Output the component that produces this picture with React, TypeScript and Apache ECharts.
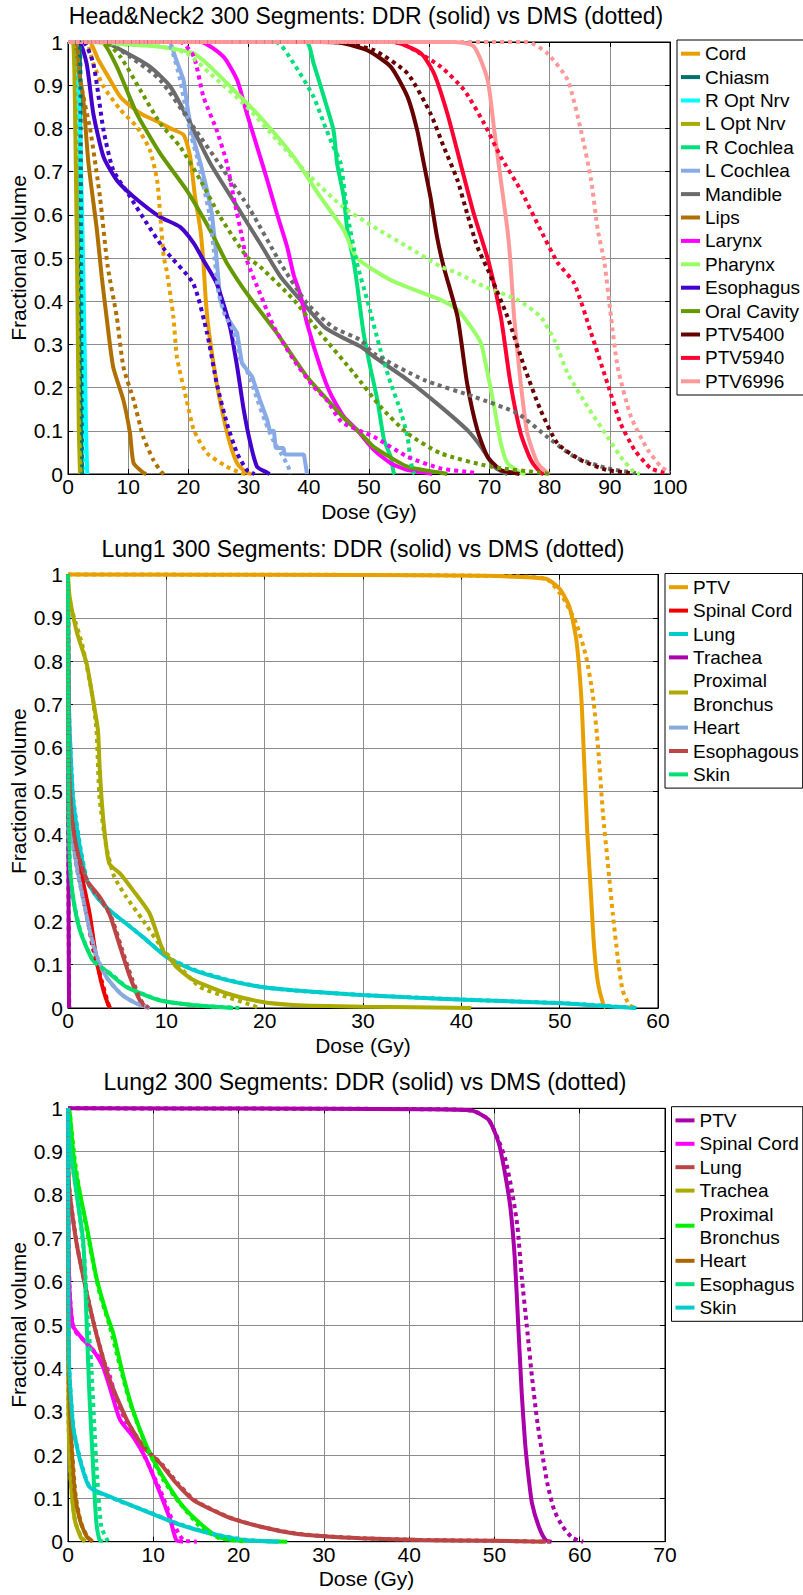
import React, { useEffect, useRef } from "react";
import * as echarts from "echarts";

type Pt = [number, number];

// ===================== Head&Neck2 =====================
const hnTitle = "Head&Neck2 300 Segments: DDR (solid) vs DMS (dotted)";
const hnXTicks = [0, 10, 20, 30, 40, 50, 60, 70, 80, 90, 100];
const hnNames = ["Cord", "Chiasm", "R Opt Nrv", "L Opt Nrv", "R Cochlea", "L Cochlea", "Mandible", "Lips", "Larynx", "Pharynx", "Esophagus", "Oral Cavity", "PTV5400", "PTV5940", "PTV6996"];
const hnColors = ["#E8A000", "#007070", "#00FFFF", "#AAAA00", "#00E07A", "#88AAE6", "#6B6B6B", "#B07000", "#FF00FF", "#99FF66", "#4400CC", "#669900", "#660000", "#FF0033", "#FF9999"];

const hnCordDDR: Pt[] = [[0,1],[3.5,1],[5,0.96],[7,0.912],[8.7,0.873],[10.5,0.85],[12.5,0.831],[15,0.815],[17,0.8],[19.2,0.785],[20.3,0.734],[21.1,0.642],[22,0.565],[22.5,0.488],[22.9,0.4],[23.4,0.33],[24.7,0.21],[25.8,0.133],[26.9,0.071],[28.1,0.025],[29.7,0.003],[30.5,0]];
const hnCordDMS: Pt[] = [[0,1],[3,1],[4.2,0.95],[5.9,0.897],[8.7,0.843],[11.4,0.804],[13.6,0.75],[14.8,0.68],[15.3,0.603],[15.9,0.503],[16.4,0.47],[17.5,0.364],[18.1,0.27],[19.7,0.171],[20.9,0.102],[23.1,0.048],[26.4,0.017],[28.6,0.003],[29.5,0]];
const hnChiasmDDR: Pt[] = [[0,1],[1.8,1],[2.0,0.9],[2.1,0.5],[2.2,0.1],[2.3,0]];
const hnChiasmDMS: Pt[] = [[0,1],[1.9,1],[2.1,0.8],[2.2,0.4],[2.35,0]];
const hnROptDDR: Pt[] = [[0,1],[1.3,1],[1.8,0.9],[2.5,0.5],[3.0,0.1],[3.2,0]];
const hnROptDMS: Pt[] = [[0,1],[1.3,1],[1.7,0.9],[2.3,0.5],[2.8,0.1],[3.0,0]];
const hnLOptDDR: Pt[] = [[0,1],[0.8,1],[1.1,0.9],[1.5,0.5],[1.8,0.1],[2.0,0]];
const hnLOptDMS: Pt[] = [[0,1],[0.9,1],[1.2,0.9],[1.6,0.5],[1.9,0.1],[2.1,0]];
const hnRCochDDR: Pt[] = [[0,1],[39.5,1],[40.8,0.95],[42.5,0.873],[44.1,0.796],[44.7,0.719],[45.8,0.642],[46.4,0.565],[47.5,0.488],[48,0.441],[49.1,0.326],[50.2,0.248],[51.4,0.171],[52.5,0.079],[53.6,0.04],[54.1,0.003],[54.3,0]];
const hnRCochDMS: Pt[] = [[0,1],[34.5,1],[37.5,0.95],[40.8,0.873],[42.5,0.812],[44,0.76],[45.3,0.719],[46.4,0.603],[48,0.488],[49.7,0.403],[51.9,0.287],[53.6,0.21],[55.2,0.148],[56.4,0.086],[56.9,0.032],[57.4,0.003],[57.6,0]];
const hnLCochDDR: Pt[] = [[0,1],[17,1],[17.8,0.966],[19.2,0.912],[20,0.835],[20.9,0.773],[22,0.72],[23.1,0.657],[23.9,0.603],[24.5,0.526],[25.3,0.403],[26.4,0.364],[28.1,0.326],[28.9,0.256],[30.6,0.225],[31.9,0.171],[33.1,0.125],[33.5,0.1],[34.2,0.1],[34.5,0.06],[35.8,0.06],[36,0.045],[39.2,0.045],[39.7,0]];
const hnLCochDMS: Pt[] = [[0,1],[16.5,1],[17.5,0.97],[18.5,0.92],[19.5,0.85],[20.5,0.78],[21.5,0.73],[22.6,0.66],[23.5,0.6],[24.2,0.52],[25,0.42],[26,0.37],[27.5,0.33],[28.5,0.27],[30,0.23],[31.5,0.17],[32.8,0.12],[34,0.08],[35.5,0.045],[36.5,0.02],[37,0]];
const hnMandDDR: Pt[] = [[0,1],[5.8,1],[9.8,0.974],[13.6,0.943],[17,0.897],[20.3,0.812],[23.6,0.72],[28.1,0.619],[31.9,0.534],[35.3,0.457],[38.6,0.403],[42.5,0.341],[45.3,0.318],[48.6,0.295],[50.8,0.272],[56.4,0.218],[61.9,0.156],[66.3,0.102],[68.6,0.063],[70.8,0.017],[72.4,0.003],[73,0]];
const hnMandDMS: Pt[] = [[0,1],[6,1],[10.3,0.966],[15.3,0.912],[20.8,0.804],[25.8,0.704],[30.3,0.611],[35.3,0.488],[39.7,0.395],[44,0.34],[48.6,0.31],[50.8,0.279],[59.1,0.218],[67.4,0.179],[74.7,0.14],[79.6,0.086],[84.1,0.04],[89.6,0.013],[94,0.003],[95,0]];
const hnLipsDDR: Pt[] = [[0,1],[1.2,1],[1.6,0.95],[2.5,0.873],[3.4,0.719],[4.8,0.565],[5.6,0.457],[6.4,0.364],[7.5,0.248],[9.2,0.171],[10.3,0.094],[10.9,0.025],[12.5,0.003],[13,0]];
const hnLipsDMS: Pt[] = [[0,1],[1.3,1],[2,0.912],[3.7,0.796],[5.3,0.642],[6.6,0.48],[8.1,0.364],[9.2,0.248],[10.9,0.171],[12.5,0.086],[14.2,0.032],[15.6,0.003],[16,0]];
const hnLarDDR: Pt[] = [[0,1],[22,1],[25.8,0.966],[28.1,0.912],[29.7,0.835],[31.4,0.758],[33.1,0.68],[34.7,0.603],[36.4,0.526],[37.5,0.46],[38.6,0.415],[39.7,0.349],[41.9,0.248],[43.6,0.186],[45.8,0.133],[48,0.102],[50.8,0.056],[53.6,0.025],[56.4,0.009],[59.7,0.003],[60.5,0]];
const hnLarDMS: Pt[] = [[0,1],[18.6,1],[20.9,0.966],[22.5,0.873],[24.7,0.796],[26.4,0.719],[27.5,0.642],[28.9,0.549],[29.7,0.495],[31.9,0.418],[34.2,0.341],[37.5,0.264],[40.8,0.202],[43,0.171],[45.5,0.12],[50.8,0.086],[56.4,0.04],[61.9,0.013],[67.4,0.003],[68,0]];
const hnPharDDR: Pt[] = [[0,1],[4,1],[5.9,0.998],[15.3,0.989],[20.8,0.974],[23.6,0.943],[28.1,0.881],[31.9,0.827],[37.5,0.734],[41.9,0.642],[45.8,0.565],[48,0.5],[53.6,0.449],[59.1,0.418],[61.9,0.403],[64.7,0.38],[66.9,0.341],[68.6,0.303],[69.7,0.233],[70.8,0.156],[71.9,0.071],[73,0.025],[75.2,0.003],[76,0]];
const hnPharDMS: Pt[] = [[0,1],[4,1],[8,0.995],[15,0.99],[19.7,0.974],[23.6,0.927],[29.7,0.85],[34.7,0.773],[40.3,0.688],[45.5,0.62],[50.8,0.572],[56.4,0.526],[61.9,0.48],[64.7,0.465],[69.1,0.434],[74.7,0.403],[78.5,0.364],[80.8,0.31],[83,0.233],[86.3,0.156],[89.6,0.086],[91.8,0.04],[94.1,0.003],[95,0]];
const hnEsoDDR: Pt[] = [[0,1],[1.8,1],[3.1,0.95],[4.2,0.835],[5.9,0.734],[8.1,0.68],[10.9,0.642],[15.3,0.595],[18.6,0.572],[20.9,0.534],[22.5,0.495],[24.7,0.441],[26.9,0.341],[28.1,0.248],[29.2,0.148],[30.3,0.071],[31.4,0.017],[33.1,0.003],[33.5,0]];
const hnEsoDMS: Pt[] = [[0,1],[2.5,1],[4.2,0.95],[5.9,0.796],[7.5,0.704],[10.3,0.642],[13.1,0.58],[16,0.52],[20.8,0.441],[23.1,0.326],[24.7,0.21],[26.4,0.117],[28.1,0.048],[29.7,0.009],[30.5,0.003],[31,0]];
const hnOralDDR: Pt[] = [[0,1],[5.5,1],[8.1,0.943],[11.4,0.835],[15.3,0.742],[19.7,0.657],[23.6,0.565],[25.3,0.518],[26.4,0.488],[29.7,0.418],[34.7,0.326],[39.7,0.225],[44.1,0.156],[46.5,0.12],[48.6,0.094],[50.8,0.063],[56.4,0.017],[61.9,0.003],[63,0]];
const hnOralDMS: Pt[] = [[0,1],[6,1],[8.7,0.966],[12,0.889],[15.3,0.812],[18.6,0.758],[22,0.68],[25.3,0.595],[29.7,0.503],[31.9,0.48],[37.5,0.403],[41.9,0.326],[47.5,0.233],[51.9,0.156],[56.4,0.094],[61.9,0.048],[70.2,0.017],[78.5,0.003],[80,0]];
const hnP54DDR: Pt[] = [[0,1],[42,1],[45.3,0.998],[49.7,0.981],[53.6,0.943],[56.4,0.873],[58,0.796],[59.1,0.719],[60.2,0.642],[61.3,0.549],[62.4,0.48],[64.7,0.364],[66.3,0.21],[68,0.102],[69.7,0.04],[71.9,0.009],[74.1,0.003],[75,0]];
const hnP54DMS: Pt[] = [[0,1],[44,1],[50.8,0.981],[56.4,0.927],[60.2,0.835],[62.4,0.758],[64.7,0.68],[66.3,0.603],[68,0.526],[70,0.465],[73,0.364],[75.8,0.248],[78.5,0.148],[81.3,0.071],[85.2,0.032],[89.6,0.009],[93,0.003],[94,0]];
const hnP59DDR: Pt[] = [[0,1],[54,1],[58.6,0.974],[60.8,0.927],[63,0.835],[65.2,0.719],[67.4,0.603],[69.9,0.49],[71.9,0.364],[73.5,0.21],[75.2,0.094],[76.9,0.032],[78.5,0.003],[79,0]];
const hnP59DMS: Pt[] = [[0,1],[54,1],[56.4,0.99],[61.9,0.943],[65.8,0.889],[69.1,0.812],[71.9,0.734],[75.2,0.657],[78.5,0.565],[81.3,0.49],[84.1,0.441],[86.9,0.326],[89.6,0.21],[91.8,0.117],[94.1,0.056],[96.8,0.013],[99,0.003],[99.5,0]];
const hnP70DDR: Pt[] = [[0,1],[64,1],[67.4,0.99],[69.7,0.912],[70.8,0.796],[71.9,0.68],[73,0.565],[73.5,0.49],[74.1,0.364],[75.2,0.21],[76.3,0.094],[78,0.025],[79.6,0.003],[80,0]];
const hnP70DMS: Pt[] = [[0,1],[76.3,1],[79.6,0.974],[83,0.912],[85.2,0.796],[86.9,0.68],[88,0.565],[89.1,0.49],[90.2,0.364],[91.3,0.248],[93.5,0.133],[96.3,0.056],[98.5,0.017],[100,0.003]];

const hnDDR = [hnCordDDR, hnChiasmDDR, hnROptDDR, hnLOptDDR, hnRCochDDR, hnLCochDDR, hnMandDDR, hnLipsDDR, hnLarDDR, hnPharDDR, hnEsoDDR, hnOralDDR, hnP54DDR, hnP59DDR, hnP70DDR];
const hnDMS = [hnCordDMS, hnChiasmDMS, hnROptDMS, hnLOptDMS, hnRCochDMS, hnLCochDMS, hnMandDMS, hnLipsDMS, hnLarDMS, hnPharDMS, hnEsoDMS, hnOralDMS, hnP54DMS, hnP59DMS, hnP70DMS];
const hnUnsmoothed = ["L Cochlea"];

// ===================== Lung1 =====================
const l1Title = "Lung1 300 Segments: DDR (solid) vs DMS (dotted)";
const l1XTicks = [0, 10, 20, 30, 40, 50, 60];
const l1Names = ["PTV", "Spinal Cord", "Lung", "Trachea", "Proximal\nBronchus", "Heart", "Esophagous", "Skin"];
const l1Colors = ["#E8A000", "#EE0000", "#00CCCC", "#AA00AA", "#AAAA00", "#88AADD", "#BB4444", "#00E070"];

const l1PtvDDR: Pt[] = [[0,1],[30,0.999],[42,0.997],[48.6,0.99],[50,0.967],[51,0.925],[51.7,0.848],[52.2,0.717],[52.5,0.564],[52.8,0.41],[53.2,0.256],[53.5,0.141],[53.9,0.057],[54.4,0.011],[54.7,0]];
const l1PtvDMS: Pt[] = [[0,1],[30,0.999],[42,0.997],[48.6,0.99],[50.3,0.948],[51.7,0.886],[52.7,0.809],[53.4,0.717],[53.9,0.602],[54.4,0.449],[54.9,0.333],[55.4,0.218],[55.9,0.118],[56.4,0.041],[57.1,0.007],[57.8,0]];
const l1CordDDR: Pt[] = [[0,1],[0.05,0.7],[0.2,0.56],[0.5,0.449],[1,0.372],[1.5,0.295],[2.2,0.218],[2.7,0.141],[3.1,0.088],[3.6,0.041],[4.1,0.007],[4.3,0]];
const l1CordDMS: Pt[] = [[0,1],[0.05,0.65],[0.2,0.52],[0.5,0.42],[0.85,0.333],[1.9,0.218],[2.5,0.141],[3.4,0.065],[4.2,0.003],[4.4,0]];
const l1LungDDR: Pt[] = [[0,1],[0.05,0.75],[0.17,0.64],[0.5,0.487],[1.2,0.372],[1.9,0.295],[2.9,0.257],[4.2,0.226],[5.9,0.195],[7.6,0.164],[10,0.118],[12.7,0.088],[16.1,0.065],[19.5,0.049],[22.9,0.041],[29.7,0.03],[35,0.024],[41.8,0.018],[50.3,0.011],[52.9,0.007],[55.5,0.003],[57.8,0]];
const l1LungDMS: Pt[] = [[0,1],[0.05,0.73],[0.2,0.62],[0.55,0.48],[1.3,0.365],[2,0.29],[3,0.255],[4.4,0.222],[6.1,0.192],[7.8,0.16],[10.2,0.116],[13,0.087],[16.4,0.064],[19.8,0.048],[23.2,0.04],[30,0.03],[35.5,0.024],[42,0.018],[50.5,0.011],[53.5,0.007],[56,0.003],[58,0]];
const l1TracDDR: Pt[] = [[0,1],[0.05,0.3],[0.1,0.02],[0.12,0]];
const l1TracDMS: Pt[] = [[0,1],[0.05,0.28],[0.12,0.02],[0.15,0]];
const l1BronDDR: Pt[] = [[0,1],[0.17,0.948],[0.85,0.871],[1.9,0.794],[2.5,0.717],[3.05,0.64],[3.2,0.564],[3.4,0.487],[3.7,0.41],[4.2,0.333],[5.3,0.31],[6.6,0.272],[8.3,0.218],[9.7,0.13],[10.5,0.11],[11,0.095],[12.7,0.065],[16.1,0.034],[19.5,0.015],[22.9,0.007],[30,0.003],[41,0]];
const l1BronDMS: Pt[] = [[0,1],[0.1,0.93],[0.5,0.909],[1.5,0.833],[2.5,0.717],[2.9,0.64],[3.2,0.487],[3.9,0.372],[4.7,0.303],[5.9,0.257],[7.6,0.203],[9.7,0.134],[11,0.103],[13.4,0.049],[16.1,0.026],[18.1,0.011],[19.5,0]];
const l1HeartDDR: Pt[] = [[0,1],[0.05,0.6],[0.34,0.41],[0.85,0.333],[1.5,0.257],[2.2,0.18],[2.9,0.118],[3.9,0.072],[5.3,0.034],[6.9,0.011],[8.3,0]];
const l1HeartDMS: Pt[] = [[0,1],[0.05,0.58],[0.4,0.4],[0.9,0.32],[1.6,0.245],[2.3,0.17],[3.1,0.11],[4.1,0.065],[5.5,0.03],[7,0.01],[8.5,0]];
const l1EsoDDR: Pt[] = [[0,1],[0.05,0.6],[0.34,0.449],[0.85,0.372],[1.9,0.295],[3.2,0.257],[4.2,0.218],[5.3,0.141],[6.3,0.072],[7.3,0.018],[8,0]];
const l1EsoDMS: Pt[] = [[0,1],[0.05,0.58],[0.4,0.44],[0.9,0.365],[2,0.29],[3.3,0.25],[4.4,0.21],[5.5,0.135],[6.5,0.068],[7.5,0.015],[8.2,0]];
const l1SkinDDR: Pt[] = [[0,1],[0.05,0.5],[0.17,0.333],[0.5,0.257],[1.2,0.18],[2.5,0.111],[4.2,0.08],[5.9,0.049],[9.3,0.018],[12.7,0.007],[16.8,0]];
const l1SkinDMS: Pt[] = [[0,1],[0.05,0.48],[0.2,0.33],[0.55,0.25],[1.3,0.175],[2.6,0.108],[4.4,0.078],[6.1,0.047],[9.5,0.017],[13,0.006],[17.5,0]];

const l1DDR = [l1PtvDDR, l1CordDDR, l1LungDDR, l1TracDDR, l1BronDDR, l1HeartDDR, l1EsoDDR, l1SkinDDR];
const l1DMS = [l1PtvDMS, l1CordDMS, l1LungDMS, l1TracDMS, l1BronDMS, l1HeartDMS, l1EsoDMS, l1SkinDMS];

// ===================== Lung2 =====================
const l2Title = "Lung2 300 Segments: DDR (solid) vs DMS (dotted)";
const l2XTicks = [0, 10, 20, 30, 40, 50, 60, 70];
const l2Names = ["PTV", "Spinal Cord", "Lung", "Trachea", "Proximal\nBronchus", "Heart", "Esophagus", "Skin"];
const l2Colors = ["#AA00AA", "#FF00FF", "#BB4444", "#AAAA00", "#00EE00", "#AA6600", "#00E080", "#00CCCC"];

const l2PtvDDR: Pt[] = [[0,1],[30,0.999],[41.4,0.998],[47.3,0.995],[49.3,0.974],[50.5,0.92],[51.3,0.843],[51.9,0.766],[52.4,0.65],[52.8,0.497],[53.2,0.343],[53.6,0.227],[54,0.15],[54.4,0.089],[55.2,0.035],[56,0.004],[56.7,0]];
const l2PtvDMS: Pt[] = [[0,1],[30,0.999],[41.4,0.998],[47.3,0.995],[49.3,0.974],[50.5,0.925],[51.3,0.881],[52.1,0.804],[52.7,0.727],[53.2,0.612],[53.8,0.497],[54.4,0.381],[55,0.281],[55.6,0.204],[56.2,0.135],[57,0.073],[58,0.035],[59.2,0.008],[60.4,0]];
const l2CordDDR: Pt[] = [[0,1],[0.05,0.7],[0.2,0.574],[0.6,0.497],[1.8,0.466],[2.9,0.443],[4.1,0.404],[5.1,0.343],[6.1,0.281],[7.6,0.243],[9.2,0.189],[10.8,0.112],[12,0.05],[12.7,0.004],[13.5,0]];
const l2CordDMS: Pt[] = [[0,1],[0.05,0.68],[0.25,0.56],[0.7,0.49],[2.2,0.458],[4.5,0.404],[5.7,0.327],[6.9,0.273],[8.8,0.204],[10.8,0.119],[12.4,0.042],[13.5,0.004],[15.1,0]];
const l2LungDDR: Pt[] = [[0,1],[0.05,0.85],[0.2,0.804],[1,0.689],[2.2,0.574],[3.3,0.481],[4.9,0.373],[6.9,0.281],[8.8,0.219],[10.8,0.181],[12.7,0.135],[14.7,0.096],[18.6,0.058],[22.5,0.035],[26.5,0.019],[30.4,0.012],[34.3,0.008],[41.4,0.004],[50,0.002],[56,0]];
const l2LungDMS: Pt[] = [[0,1],[0.05,0.84],[0.25,0.795],[1.1,0.68],[2.3,0.565],[3.4,0.475],[5,0.365],[7,0.276],[9,0.216],[11,0.179],[12.9,0.134],[14.9,0.095],[18.8,0.057],[22.7,0.034],[26.7,0.019],[30.6,0.012],[34.5,0.008],[41.6,0.004],[50,0.002],[56.5,0]];
const l2TracDDR: Pt[] = [[0,1],[0.05,0.3],[0.3,0.15],[0.8,0.05],[1.5,0.01],[2,0]];
const l2TracDMS: Pt[] = [[0,1],[0.05,0.29],[0.32,0.14],[0.85,0.045],[1.6,0.01],[2.1,0]];
const l2BronDDR: Pt[] = [[0,1],[0.2,0.99],[0.6,0.9],[1,0.843],[2.2,0.727],[3.3,0.612],[4.5,0.527],[5.3,0.481],[6.5,0.381],[7.6,0.304],[9.6,0.204],[11.6,0.135],[13.5,0.081],[15.5,0.042],[17.5,0.012],[19.4,0.004],[25.7,0]];
const l2BronDMS: Pt[] = [[0,1],[0.2,0.99],[0.8,0.88],[1.4,0.804],[2.5,0.689],[3.7,0.574],[4.9,0.497],[6.1,0.404],[7.3,0.319],[9.2,0.219],[11.2,0.142],[13.1,0.089],[15.5,0.035],[17.8,0.008],[21,0]];
const l2HeartDDR: Pt[] = [[0,1],[0.05,0.5],[0.1,0.373],[0.4,0.227],[0.8,0.112],[1.4,0.05],[2.2,0.012],[2.9,0]];
const l2HeartDMS: Pt[] = [[0,1],[0.05,0.48],[0.12,0.36],[0.45,0.22],[0.9,0.105],[1.5,0.045],[2.3,0.01],[3,0]];
const l2EsoDDR: Pt[] = [[0,1],[0.2,0.92],[1,0.804],[1.8,0.689],[2.2,0.497],[2.5,0.343],[2.9,0.189],[3.3,0.05],[3.7,0.004],[4.1,0]];
const l2EsoDMS: Pt[] = [[0,1],[0.3,0.9],[1.2,0.78],[1.9,0.66],[2.3,0.52],[2.7,0.42],[3.3,0.189],[3.9,0.035],[4.7,0]];
const l2SkinDDR: Pt[] = [[0,1],[0.05,0.6],[0.1,0.42],[0.6,0.266],[1.4,0.189],[2.5,0.127],[4.9,0.104],[8.8,0.073],[12.7,0.042],[16.7,0.019],[20.6,0.004],[24.5,0]];
const l2SkinDMS: Pt[] = [[0,1],[0.05,0.58],[0.12,0.41],[0.65,0.26],[1.5,0.185],[2.6,0.125],[5,0.102],[9,0.072],[13,0.041],[17,0.018],[21,0.004],[25,0]];

const l2DDR = [l2PtvDDR, l2CordDDR, l2LungDDR, l2TracDDR, l2BronDDR, l2HeartDDR, l2EsoDDR, l2SkinDDR];
const l2DMS = [l2PtvDMS, l2CordDMS, l2LungDMS, l2TracDMS, l2BronDMS, l2HeartDMS, l2EsoDMS, l2SkinDMS];

const yTicks = [0, 0.1, 0.2, 0.3, 0.4, 0.5, 0.6, 0.7, 0.8, 0.9, 1];
const xLabel = "Dose (Gy)";
const yLabel = "Fractional volume";

const FONT = "'Liberation Sans', Arial, Helvetica, sans-serif";

interface PanelCfg {
  title: string;
  titleX: number;
  titleY: number;
  names: string[];
  colors: string[];
  ddr: Pt[][];
  dms: Pt[][];
  unsmoothed: string[];
  xTicks: number[];
  grid: { left: number; top: number; width: number; height: number };
  legendLeft: number;
  legendTop: number;
  height: number;
  offset: number;
}

function makeOption(p: PanelCfg): any {
  const { left: gx, top: gy, width: gw, height: gh } = p.grid;
  const xMin = p.xTicks[0];
  const xMax = p.xTicks[p.xTicks.length - 1];
  const xInt = p.xTicks[1] - p.xTicks[0];
  const yMin = yTicks[0];
  const yMax = yTicks[yTicks.length - 1];
  const yInt = 0.1;
  const series: any[] = [];
  const mk = (name: string, data: Pt[], color: string, dotted: boolean, smooth: boolean) => ({
    type: "line",
    name,
    data,
    color,
    itemStyle: { color },
    lineStyle: dotted ? { color, width: 4, type: [4, 4] } : { color, width: 4, type: "solid" },
    smooth: smooth ? 0.2 : false,
    showSymbol: false,
    symbol: "none",
    clip: false,
    silent: true,
    emphasis: { disabled: true },
  });
  p.names.forEach((n, i) => {
    series.push(mk(n, p.ddr[i], p.colors[i], false, p.unsmoothed.indexOf(n) < 0));
  });
  p.names.forEach((n, i) => {
    series.push(mk(n + " (DMS)", p.dms[i], p.colors[i], true, true));
  });
  const black = "#000";
  const baseAxis = {
    type: "value",
    axisLine: { show: true, onZero: false, lineStyle: { color: black, width: 1 } },
    axisTick: { show: true, inside: true, length: 5, lineStyle: { color: black, width: 1 } },
  };
  const txt = (text: string, x: number, y: number, size: number, rotation = 0) => ({
    type: "text",
    x,
    y,
    rotation,
    silent: true,
    style: { text, fontSize: size, fontFamily: FONT, fill: black, align: "center", verticalAlign: "middle", textAlign: "center", textVerticalAlign: "middle" },
  });
  return {
    animation: false,
    backgroundColor: "transparent",
    grid: { left: gx, top: gy, width: gw, height: gh, show: true, borderColor: black, borderWidth: 1, backgroundColor: "transparent" },
    xAxis: [
      {
        ...baseAxis,
        position: "bottom",
        min: xMin,
        max: xMax,
        interval: xInt,
        axisLabel: { fontSize: 21, fontFamily: FONT, color: black, margin: 2 },
        splitLine: { show: true, lineStyle: { color: "#8c8c8c", width: 1 } },
      },
      {
        ...baseAxis,
        position: "top",
        min: xMin,
        max: xMax,
        interval: xInt,
        axisLabel: { show: false },
        splitLine: { show: false },
      },
    ],
    yAxis: [
      {
        ...baseAxis,
        position: "left",
        min: yMin,
        max: yMax,
        interval: yInt,
        axisLabel: {
          fontSize: 21,
          fontFamily: FONT,
          color: black,
          margin: 5,
          formatter: (v: number) => String(Math.round(v * 10) / 10),
        },
        splitLine: { show: true, lineStyle: { color: "#8c8c8c", width: 1 } },
      },
      {
        ...baseAxis,
        position: "right",
        min: yMin,
        max: yMax,
        interval: yInt,
        axisLabel: { show: false },
        splitLine: { show: false },
      },
    ],
    legend: {
      data: p.names,
      orient: "vertical",
      left: p.legendLeft,
      top: p.legendTop,
      padding: [2, 4, 2, 4],
      itemGap: 0,
      itemWidth: 19,
      itemHeight: 4,
      icon: "rect",
      selectedMode: false,
      borderColor: black,
      borderWidth: 1,
      backgroundColor: "#fff",
      textStyle: { fontSize: 19, fontFamily: FONT, color: black, lineHeight: 23.4 },
    },
    graphic: [
      txt(p.title, p.titleX, p.titleY, 23),
      txt(xLabel, gx + gw / 2, gy + gh + 37, 21),
      txt(yLabel, 18, gy + gh / 2, 21, Math.PI / 2),
    ],
    series,
  };
}

const panels: PanelCfg[] = [
  {
    title: hnTitle, titleX: 366, titleY: 16,
    names: hnNames, colors: hnColors, ddr: hnDDR, dms: hnDMS, unsmoothed: hnUnsmoothed, xTicks: hnXTicks,
    grid: { left: 68, top: 42, width: 602, height: 432 },
    legendLeft: 677, legendTop: 40, height: 540, offset: 0,
  },
  {
    title: l1Title, titleX: 363, titleY: 28.5,
    names: l1Names, colors: l1Colors, ddr: l1DDR, dms: l1DMS, unsmoothed: [], xTicks: l1XTicks,
    grid: { left: 68, top: 54.5, width: 590, height: 433.5 },
    legendLeft: 665, legendTop: 53.5, height: 545, offset: 520,
  },
  {
    title: l2Title, titleX: 365, titleY: 31.7,
    names: l2Names, colors: l2Colors, ddr: l2DDR, dms: l2DMS, unsmoothed: [], xTicks: l2XTicks,
    grid: { left: 68, top: 58.3, width: 597, height: 433.4 },
    legendLeft: 671.5, legendTop: 56.7, height: 545, offset: 1050,
  },
];

function Panel({ cfg }: { cfg: PanelCfg }) {
  const ref = useRef<HTMLDivElement>(null);
  useEffect(() => {
    if (!ref.current) return;
    const chart = echarts.init(ref.current, undefined, { renderer: "svg", width: 803, height: cfg.height });
    chart.setOption(makeOption(cfg));
    return () => chart.dispose();
  }, [cfg]);
  return <div ref={ref} style={{ position: "absolute", left: 0, top: cfg.offset, width: 803, height: cfg.height }} />;
}

export default function App() {
  return (
    <div style={{ position: "absolute", left: 0, top: 0, width: 803, height: 1595, background: "#fff", overflow: "hidden" }}>
      {panels.map((p, i) => (
        <Panel key={i} cfg={p} />
      ))}
    </div>
  );
}
